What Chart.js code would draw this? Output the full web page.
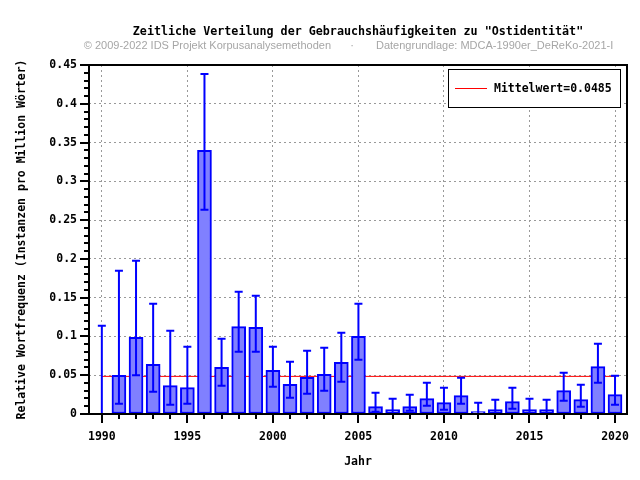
<!DOCTYPE html>
<html>
<head>
<meta charset="utf-8">
<script src="https://cdn.jsdelivr.net/npm/chart.js@4"></script>
<style>
  html, body { margin: 0; padding: 0; background: #fff; }
</style>
</head>
<body>
<canvas id="myChart" width="640" height="480"></canvas>
<script>
// Daten
const years = [1990, 1991, 1992, 1993, 1994, 1995, 1996, 1997, 1998, 1999,
               2000, 2001, 2002, 2003, 2004, 2005, 2006, 2007, 2008, 2009,
               2010, 2011, 2012, 2013, 2014, 2015, 2016, 2017, 2018, 2019, 2020];
const freq = [0, 0.05, 0.0988, 0.064, 0.0365, 0.034, 0.340, 0.0602, 0.1126, 0.1117,
              0.0563, 0.0382, 0.0473, 0.0511, 0.0666, 0.1001, 0.0095, 0.0056, 0.0095, 0.0198,
              0.0146, 0.0236, 0.003, 0.0056, 0.0159, 0.0056, 0.0056, 0.0301, 0.0185, 0.061, 0.0249];
const errHigh = [0.1139, 0.1848, 0.1977, 0.1423, 0.1074, 0.0868, 0.4384, 0.0971, 0.1577, 0.1526,
                 0.0868, 0.0675, 0.0817, 0.0855, 0.1049, 0.1423, 0.0275, 0.0198, 0.0249, 0.0404,
                 0.034, 0.0468, 0.0146, 0.0185, 0.034, 0.0198, 0.0185, 0.0533, 0.0378, 0.0907, 0.0494];
const errLow = [0, 0.0133, 0.0499, 0.0288, 0.012, 0.0133, 0.2635, 0.0365, 0.0804, 0.0804,
                0.0352, 0.0211, 0.0262, 0.0301, 0.0417, 0.070, 0.003, 0.0005, 0.0043, 0.0107,
                0.0056, 0.0133, 0, 0.0017, 0.0069, 0.0017, 0.0017, 0.0172, 0.0095, 0.0404, 0.012];
const mean = 0.0485;
const meanRange = [1990, 2020];

const xTicks = [1990, 1995, 2000, 2005, 2010, 2015, 2020];
const yTicks = [0, 0.05, 0.1, 0.15, 0.2, 0.25, 0.3, 0.35, 0.4, 0.45];
const yTickLabels = ['0', '0.05', '0.1', '0.15', '0.2', '0.25', '0.3', '0.35', '0.4', '0.45'];

const titleText = 'Zeitliche Verteilung der Gebrauchshäufigkeiten zu "Ostidentität"';
const copyText = '© 2009-2022 IDS Projekt Korpusanalysemethoden';
const sourceText = 'Datengrundlage: MDCA-1990er_DeReKo-2021-I';

const mono = "'DejaVu Sans Mono', monospace";
const monoFont = { family: mono, size: 11.5, weight: 'bold' };

// Fehlerbalken
const errorBars = {
  id: 'errorBars',
  afterDatasetsDraw(chart) {
    const { ctx, scales: { x, y } } = chart;
    ctx.save();
    ctx.strokeStyle = '#0000ff';
    ctx.lineWidth = 2;
    years.forEach((yr, i) => {
      const px = x.getPixelForValue(yr);
      const top = y.getPixelForValue(errHigh[i]);
      const bot = y.getPixelForValue(errLow[i]);
      ctx.beginPath();
      ctx.moveTo(px, top); ctx.lineTo(px, bot);
      ctx.moveTo(px - 4, top); ctx.lineTo(px + 4, top);
      ctx.moveTo(px - 4, bot); ctx.lineTo(px + 4, bot);
      ctx.stroke();
    });
    ctx.restore();
  }
};

// Rahmen, Teilstriche, Überschriften, Legende
const decor = {
  id: 'decor',
  afterDraw(chart) {
    const { ctx, chartArea: a, scales: { x, y } } = chart;
    ctx.save();
    ctx.strokeStyle = '#000';
    ctx.lineWidth = 2;
    ctx.strokeRect(a.left, a.top, a.right - a.left, a.bottom - a.top);

    // y-Teilstriche
    ctx.beginPath();
    for (let k = 0; k <= 45; k++) {
      const py = Math.round(y.getPixelForValue(k / 100));
      const len = k % 5 === 0 ? 9 : 5;
      ctx.moveTo(a.left - len, py); ctx.lineTo(a.left, py);
    }
    // x-Teilstriche
    years.forEach(yr => {
      const px = Math.round(x.getPixelForValue(yr));
      const len = yr % 5 === 0 ? 9 : 5;
      ctx.moveTo(px, a.bottom); ctx.lineTo(px, a.bottom + len);
    });
    ctx.stroke();

    // Titel
    const cx = (a.left + a.right) / 2;
    ctx.fillStyle = '#000';
    ctx.font = 'bold 11.7px ' + mono;
    ctx.textAlign = 'center';
    ctx.textBaseline = 'middle';
    ctx.fillText(titleText, cx, 32);

    ctx.fillStyle = '#a6a6a6';
    ctx.font = "11px 'Liberation Sans', Arial, sans-serif";
    ctx.textAlign = 'right';
    ctx.fillText(copyText, cx - 27, 46);
    ctx.textAlign = 'center';
    ctx.fillText('·', cx - 6, 46);
    ctx.textAlign = 'left';
    ctx.fillText(sourceText, cx + 18, 46);

    // Legende
    const lx = a.right - 179, ly = a.top + 4;
    ctx.fillStyle = '#fff';
    ctx.fillRect(lx, ly, 173, 39);
    ctx.lineWidth = 1;
    ctx.strokeStyle = '#000';
    ctx.strokeRect(lx + 0.5, ly + 0.5, 172, 38);
    ctx.strokeStyle = '#ff0000';
    ctx.beginPath();
    ctx.moveTo(lx + 7, ly + 19.5); ctx.lineTo(lx + 39, ly + 19.5);
    ctx.stroke();
    ctx.fillStyle = '#000';
    ctx.font = 'bold 11.5px ' + mono;
    ctx.textAlign = 'left';
    ctx.fillText(chart.data.datasets[1].label, lx + 46, ly + 20);
    ctx.restore();
  }
};

const ctx = document.getElementById('myChart').getContext('2d');
new Chart(ctx, {
  type: 'bar',
  data: {
    datasets: [{
      type: 'bar',
      label: 'Relative Wortfrequenz',
      data: years.map((yr, i) => ({ x: yr, y: freq[i] })),
      backgroundColor: '#8080ff',
      borderColor: '#0000ff',
      borderWidth: 2,
      borderSkipped: false,
      barThickness: 14,
      order: 1
    }, {
      type: 'line',
      label: 'Mittelwert=' + mean,
      data: meanRange.map(yr => ({ x: yr, y: mean })),
      borderColor: '#ff0000',
      borderWidth: 1,
      pointRadius: 0,
      order: 2
    }]
  },
  options: {
    responsive: false,
    animation: false,
    layout: { padding: { top: 65, right: 13, left: 0, bottom: 0 } },
    plugins: {
      legend: { display: false },
      title: { display: false },
      tooltip: { enabled: false }
    },
    scales: {
      x: {
        type: 'linear',
        min: 1989.25,
        max: 2020.7,
        offset: false,
        afterBuildTicks: s => { s.ticks = xTicks.map(v => ({ value: v })); },
        afterFit: s => { s.height = 66; s.paddingLeft = 0; s.paddingRight = 0; },
        ticks: { callback: v => String(v), padding: 16, font: monoFont, color: '#000', maxRotation: 0, autoSkip: false },
        grid: { color: '#999', lineWidth: 1, drawTicks: false, offset: false },
        border: { display: false, dash: [2, 3] },
        title: { display: true, text: 'Jahr', font: monoFont, color: '#000', padding: { top: 0, bottom: 11 } }
      },
      y: {
        min: 0,
        max: 0.45,
        afterBuildTicks: s => { s.ticks = yTicks.map(v => ({ value: v })); },
        afterFit: s => { s.width = 89; s.paddingTop = 0; s.paddingBottom = 0; },
        ticks: { callback: (v, i) => yTickLabels[i], padding: 12, font: monoFont, color: '#000' },
        grid: { color: '#999', lineWidth: 1, drawTicks: false },
        border: { display: false, dash: [2, 3] },
        title: {
          display: true,
          text: 'Relative Wortfrequenz (Instanzen pro Million Wörter)',
          font: monoFont, color: '#000',
          padding: { top: 15, bottom: 0 }
        }
      }
    }
  },
  plugins: [errorBars, decor]
});
</script>
</body>
</html>
